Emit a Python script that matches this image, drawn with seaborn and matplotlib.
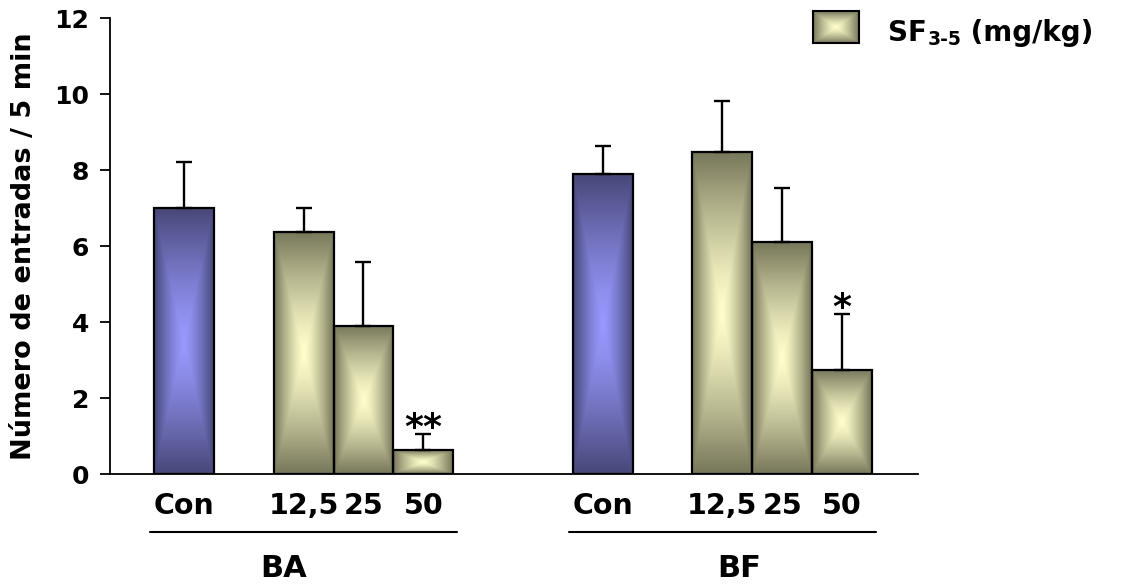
import numpy as np
import pandas as pd
import matplotlib
matplotlib.use("Agg")
import matplotlib.pyplot as plt
import seaborn as sns

# ---------------- data ----------------
groups = ["BA", "BA", "BA", "BA", "BF", "BF", "BF", "BF"]
treatments = ["Con", "12,5", "25", "50", "Con", "12,5", "25", "50"]
means = [7.0, 6.38, 3.9, 0.63, 7.89, 8.48, 6.1, 2.74]
sems = [1.2, 0.62, 1.68, 0.42, 0.74, 1.34, 1.42, 1.47]
signif = ["", "", "", "**", "", "", "", "*"]
y_ticks = [0, 2, 4, 6, 8, 10, 12]
y_label = "Número de entradas / 5 min"
group_names = ["BA", "BF"]
legend_main, legend_sub, legend_rest = "SF", "3-5", " (mg/kg)"

# ---------------- layout ----------------
positions = [0, 2, 3, 4, 7, 9, 10, 11]
group_label_x = [1.67, 9.28]
kind = ["Control" if t == "Con" else "SF" for t in treatments]

df = pd.DataFrame({"pos": positions, "mean": means, "kind": kind,
                   "group": groups, "treat": treatments})

grad = {"Control": (np.array([71, 71, 120]) / 255, np.array([153, 153, 255]) / 255),
        "SF": (np.array([118, 118, 90]) / 255, np.array([255, 255, 204]) / 255)}
palette = {"Control": "#7070c0", "SF": "#c8c8a0"}

sns.set_style("ticks")
plt.rcParams["font.family"] = ["DejaVu Sans"]
plt.rcParams["font.weight"] = "bold"
for k in ("text.color", "axes.labelcolor", "xtick.color", "ytick.color",
          "axes.edgecolor"):
    plt.rcParams[k] = "black"


def box_gradient(edge, center, nx=120, ny=240):
    u = np.linspace(-1, 1, nx)
    v = np.linspace(-1, 1, ny)
    U, V = np.meshgrid(u, v)
    t = (np.maximum(np.abs(U), np.abs(V)) ** 1.3)[..., None]
    return center * (1 - t) + edge * t


fig = plt.figure(figsize=(11.3, 5.85), dpi=100)
ax = fig.add_axes([110 / 1130, 111 / 585, 808 / 1130, 456 / 585])

sns.barplot(data=df, x="pos", y="mean", hue="kind", native_scale=True,
            width=1.0, dodge=False, palette=palette, edgecolor="black",
            linewidth=1.6, errorbar=None, legend=False, ax=ax)

for p in list(ax.patches):
    x0, y0, w, h = p.get_x(), p.get_y(), p.get_width(), p.get_height()
    idx = int(np.argmin([abs(x0 + w / 2 - q) for q in positions]))
    edge, center = grad[kind[idx]]
    im = ax.imshow(box_gradient(edge, center), extent=[x0, x0 + w, y0, y0 + h],
                   origin="lower", aspect="auto", interpolation="bilinear",
                   zorder=p.get_zorder() - 0.05)
    im.set_clip_path(p)
    p.set_facecolor("none")

ax.errorbar(positions, means, yerr=[np.zeros(len(means)), sems], fmt="none",
            ecolor="black", elinewidth=1.7, capsize=6, capthick=1.7, zorder=3)

for x, m, s, sig in zip(positions, means, sems, signif):
    if sig:
        ax.text(x, m + s - 0.1, sig, ha="center", va="baseline",
                fontsize=26, fontweight="bold", color="black", zorder=4)

ax.set_xlim(-1.237, 12.27)
ax.set_ylim(0, 12)
ax.set_yticks(y_ticks)
ax.set_yticklabels([str(v) for v in y_ticks], fontsize=18, fontweight="bold")
ax.set_xticks(positions)
ax.set_xticklabels(treatments, fontsize=20.5, fontweight="bold")
ax.tick_params(axis="x", length=0, pad=13, labelcolor="black")
ax.tick_params(axis="y", length=7.2, width=1.3, pad=8, color="black",
               labelcolor="black")
ax.set_xlabel("")
ax.set_ylabel(y_label, fontsize=19.5, fontweight="bold", labelpad=12,
              color="black")
sns.despine(ax=ax)
for side in ("left", "bottom"):
    ax.spines[side].set_linewidth(1.3)
    ax.spines[side].set_color("black")

trans = ax.get_xaxis_transform()
for g, lx in zip(group_names, group_label_x):
    gp = [p for p, gg in zip(positions, groups) if gg == g]
    ax.plot([min(gp) - 0.57, max(gp) + 0.57], [-0.127, -0.127], color="black",
            lw=1.5, transform=trans, clip_on=False)
    ax.text(lx, -0.208, g, ha="center", va="center", fontsize=22,
            fontweight="bold", color="black", transform=trans)

# legend
lax = fig.add_axes([813 / 1130, (585 - 43) / 585, 46 / 1130, 32 / 585])
edge, center = grad["SF"]
lax.imshow(box_gradient(edge, center, 100, 70), aspect="auto",
           interpolation="bilinear")
lax.set_xticks([])
lax.set_yticks([])
for sp in lax.spines.values():
    sp.set_visible(True)
    sp.set_linewidth(1.5)
    sp.set_color("black")

t1 = fig.text(888 / 1130, 1 - 41 / 585, legend_main, fontsize=20,
              fontweight="bold", va="baseline", ha="left", color="black")
t2 = ax.annotate(legend_sub, xy=(1, 0), xycoords=t1, xytext=(0.5, -1.5),
                 textcoords="offset points", va="bottom", ha="left",
                 fontsize=13.5, fontweight="bold", color="black",
                 annotation_clip=False)
t3 = ax.annotate(legend_rest, xy=(1, 0), xycoords=(t2, t1), xytext=(0, 0),
                 textcoords="offset points", va="bottom", ha="left",
                 fontsize=20, fontweight="bold", color="black",
                 annotation_clip=False)

fig.savefig("out.png", dpi=100)
